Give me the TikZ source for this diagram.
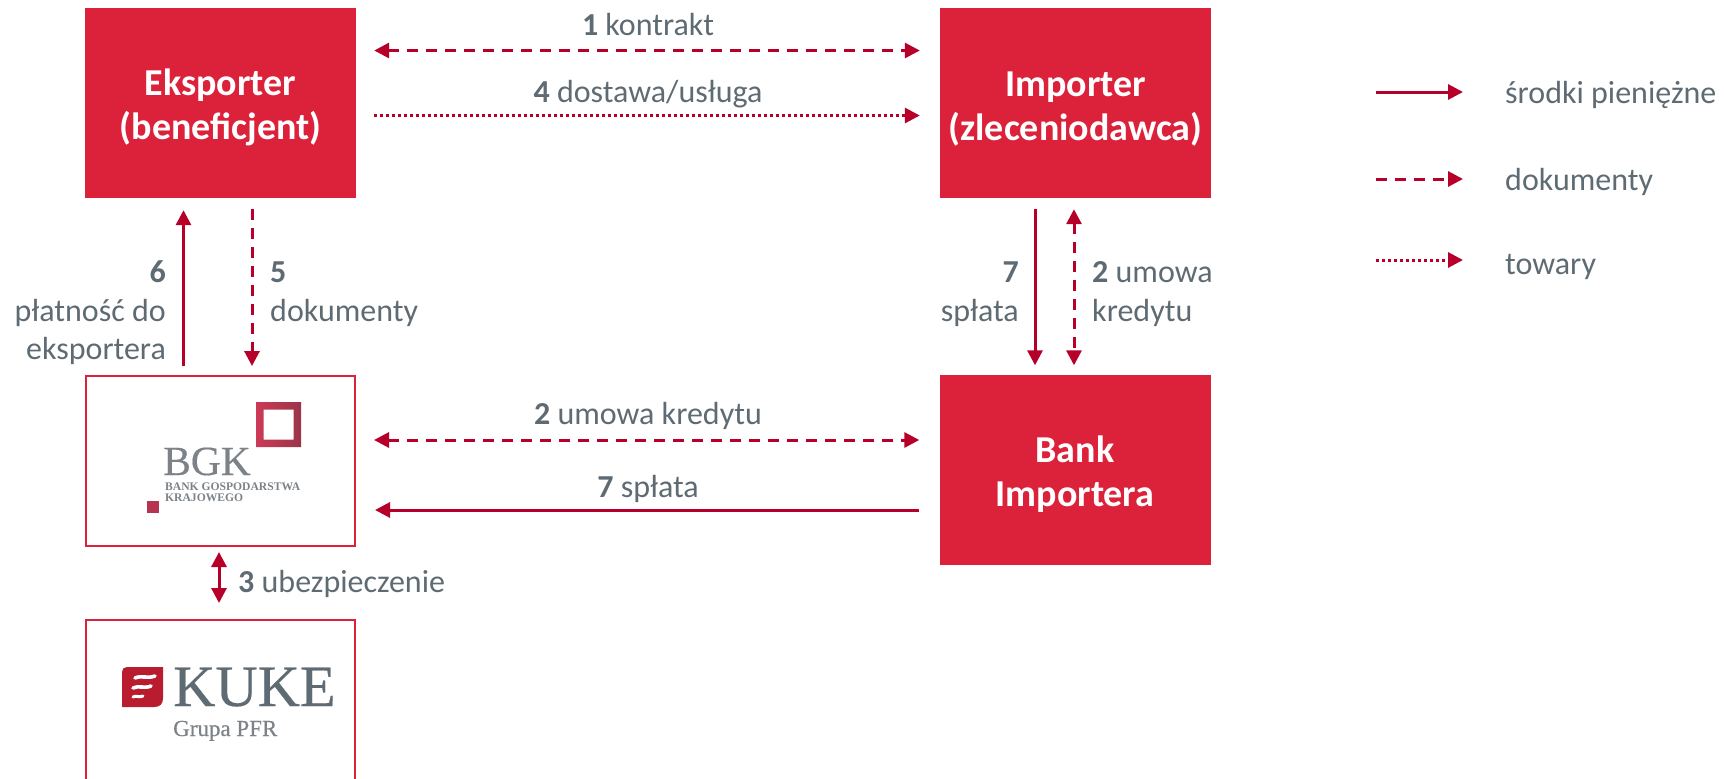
\documentclass[tikz,border=0pt]{standalone}
\usepackage{fontspec}
\setmainfont{Carlito}
\newfontfamily\logoserif[FakeBold=0.35]{Liberation Serif}
\newfontfamily\logothin{Liberation Serif}
\usetikzlibrary{arrows.meta}
\definecolor{boxred}{HTML}{DC213A}
\definecolor{arrowred}{HTML}{B70029}
\definecolor{txtgray}{HTML}{5F6B73}
\definecolor{logogray}{HTML}{7C8287}
\definecolor{ringl}{HTML}{CC3A57}
\definecolor{ringr}{HTML}{9B3449}
\definecolor{smallsq}{HTML}{B5344F}
\definecolor{kukered}{HTML}{B81C2E}
\newcommand{\boxstrut}{\rule{0pt}{36pt}}
\tikzset{
  x=1pt,y=-1pt,
  redbox/.style={draw=none,fill=boxred,text=white,minimum width=271pt,minimum height=190pt,inner sep=0pt,align=center,font=\fontsize{38}{44}\selectfont\bfseries},
  logobox/.style={draw=boxred,line width=2pt,fill=white,minimum width=269pt,inner sep=0pt},
  lbl/.style={text=txtgray,inner sep=0pt,font=\fontsize{32}{38.5}\selectfont},
  money/.style={draw=arrowred,line width=3pt,-{Triangle[length=15pt,width=15pt]}},
  docs/.style={draw=arrowred,line width=3pt,dash pattern=on 11pt off 8pt,-{Triangle[length=15pt,width=15pt]}},
  docsboth/.style={docs,{Triangle[length=15pt,width=15pt]}-{Triangle[length=15pt,width=15pt]}},
  goods/.style={draw=arrowred,line width=3pt,dash pattern=on 3pt off 3pt,-{Triangle[length=15pt,width=15pt]}},
  moneyboth/.style={money,{Triangle[length=15pt,width=15pt]}-{Triangle[length=15pt,width=15pt]}},
}
\begin{document}
\begin{tikzpicture}
\useasboundingbox (0,0) rectangle (1724,779);
% boxes
\node[redbox] (ek) at (220.5,103) {\boxstrut Eksporter\\(beneficjent)};
\node[redbox] (im) at (1075.5,103) {\boxstrut Importer\\(zleceniodawca)};
\node[redbox] (bi) at (1075,469.5) {\boxstrut Bank\\Importera};
\node[logobox,minimum height=170pt] (bgk) at (220.5,461) {};
\node[logobox,minimum height=180pt,anchor=north] (kuke) at (220.5,619) {};
% BGK logo
\shade[left color=ringl,right color=ringr,even odd rule] (256,402) rectangle (301,447) (263.5,409.5) rectangle (293.5,439.5);
\fill[color=smallsq] (147,501) rectangle (159,513);
\node[anchor=base west,inner sep=0pt,text=logogray,font=\logoserif\fontsize{41.5}{41.5}\selectfont] (bgkname) at (163,475) {BGK};
\node[anchor=base west,inner sep=0pt,text=logogray,font=\logothin\bfseries\fontsize{11.6}{11.6}\selectfont] (bgkline1) at (165,490) {BANK GOSPODARSTWA};
\node[anchor=base west,inner sep=0pt,text=logogray,font=\logothin\bfseries\fontsize{11.6}{11.6}\selectfont] (bgkline2) at (165,501.5) {KRAJOWEGO};
% KUKE logo
\fill[color=kukered] (127,667) -- (163,667) -- (163,698) .. controls (163,704) and (160,707) .. (154,707) -- (122,707) -- (122,672) .. controls (122,669) and (124,667) .. (127,667) -- cycle;
\draw[white,line width=3.6pt,line cap=round] (135,678) .. controls (142,675) and (147,679) .. (155,676);
\draw[white,line width=3.6pt,line cap=round] (133,688) .. controls (139,685) and (144,689) .. (151,686);
\draw[white,line width=3pt,line cap=round] (133,697) .. controls (136,695) and (140,698) .. (143,696);
\node[anchor=base west,inner sep=0pt,text=txtgray,font=\logoserif\fontsize{58.5}{58.5}\selectfont] (kukename) at (173,706) {KUKE};
\node[anchor=base west,inner sep=0pt,text=logogray,font=\logoserif\fontsize{23}{23}\selectfont] (kukesub) at (173,736) {Grupa PFR};
% connectors
\draw[docsboth] ([xshift=18pt,yshift=52.5pt]ek.east) -- ([xshift=-20pt,yshift=52.5pt]im.west);
\draw[goods] ([xshift=18pt,yshift=-12.5pt]ek.east) -- ([xshift=-20pt,yshift=-12.5pt]im.west);
\draw[money] ([xshift=-37pt,yshift=9pt]bgk.north) -- ([xshift=-37pt,yshift=-12pt]ek.south);
\draw[docs] ([xshift=31.5pt,yshift=-11pt]ek.south) -- ([xshift=31.5pt,yshift=9pt]bgk.north);
\draw[money] ([xshift=-40.5pt,yshift=-11pt]im.south) -- ([xshift=-40pt,yshift=9pt]bi.north);
\draw[docsboth] ([xshift=-1.5pt,yshift=-11pt]im.south) -- ([xshift=-1pt,yshift=9pt]bi.north);
\draw[docsboth] ([xshift=18pt,yshift=21pt]bgk.east) -- ([xshift=-20pt,yshift=29.5pt]bi.west);
\draw[money] ([xshift=-20pt,yshift=-40.5pt]bi.west) -- ([xshift=19pt,yshift=-49pt]bgk.east);
\draw[moneyboth] ([xshift=-1.5pt,yshift=-5pt]bgk.south) -- ([xshift=-1.5pt,yshift=16pt]kuke.north);
% labels
\node[lbl,anchor=base] (l1) at (648,35) {\textbf{1} kontrakt};
\node[lbl,anchor=base] (l4) at (648,102) {\textbf{4} dostawa/usługa};
\node[lbl,anchor=base east,align=right] (l6a) at (166,282) {\textbf{6}};
\node[lbl,anchor=base east] (l6b) at (166,321) {płatność do};
\node[lbl,anchor=base east] (l6c) at (166,359) {eksportera};
\node[lbl,anchor=base west] (l5a) at (270,282) {\textbf{5}};
\node[lbl,anchor=base west] (l5b) at (270,321) {dokumenty};
\node[lbl,anchor=base east] (l7a) at (1019,282) {\textbf{7}};
\node[lbl,anchor=base east] (l7b) at (1019,321) {spłata};
\node[lbl,anchor=base west] (l2a) at (1092,282) {\textbf{2} umowa};
\node[lbl,anchor=base west] (l2b) at (1092,321) {kredytu};
\node[lbl,anchor=base] (l2m) at (648,424) {\textbf{2} umowa kredytu};
\node[lbl,anchor=base] (l7m) at (648,497) {\textbf{7} spłata};
\node[lbl,anchor=base west] (l3) at (238,592) {\textbf{3} ubezpieczenie};
% legend
\coordinate (leg1a) at (1376,92); \coordinate (leg1b) at (1463,92);
\coordinate (leg2a) at (1376,179); \coordinate (leg2b) at (1463,179);
\coordinate (leg3a) at (1376,260); \coordinate (leg3b) at (1463,260);
\draw[money] (leg1a) -- (leg1b);
\draw[docs] (leg2a) -- (leg2b);
\draw[goods] (leg3a) -- (leg3b);
\node[lbl,anchor=base west] (t1) at (1505,103) {środki pieniężne};
\node[lbl,anchor=base west] (t2) at (1505,190) {dokumenty};
\node[lbl,anchor=base west] (t3) at (1505,274) {towary};
\end{tikzpicture}
\end{document}
